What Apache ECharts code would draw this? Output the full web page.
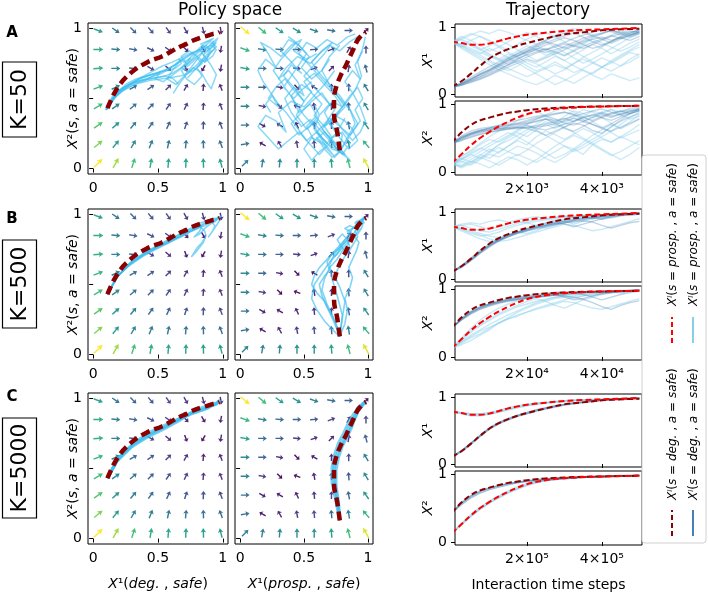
<!DOCTYPE html>
<html><head><meta charset="utf-8">
<script src="https://cdn.jsdelivr.net/npm/echarts@6/dist/echarts.min.js"></script>
<style>html,body{margin:0;padding:0;background:#fff}#c{width:708px;height:593px}</style>
</head><body><div id="c"></div>
<script>
// ---------------- DATA ----------------
const ROW_NAMES = ['A', 'B', 'C'];
const ROW_K = ['K=50', 'K=500', 'K=5000'];
const ROW_SPAN = [5000, 50000, 500000];           // time axis span of each row
const TIME_TICKS = [[2000, 4000], [20000, 40000], [200000, 400000]];
const TIME_TICK_LABELS = [['2×10³', '4×10³'], ['2×10⁴', '4×10⁴'], ['2×10⁵', '4×10⁵']];
const PHASE_TICKS = [0, 0.5, 1];
const PHASE_TICK_LABELS = ['0', '0.5', '1'];
const UNIT_TICKS = [0, 1];
const UNIT_TICK_LABELS = ['0', '1'];

// quiver grid (arrow centres)
const GRID_VALS = [0.04, 0.175, 0.31, 0.445, 0.58, 0.715, 0.85, 0.985];
// rows listed from top (y high) to bottom (y low); angle in degrees (0 = right, 90 = up)
const DEG_ANGLES = [
  [-20, -35, -45, -50, -55, -60, -75, -80],
  [0, -5, -10, -25, -35, -45, -60, -100],
  [5, 0, -5, -30, -40, -70, -120, -100],
  [20, 25, 30, 35, 45, 60, 85, 110],
  [30, 35, 40, 45, 55, 65, 85, 110],
  [35, 42, 50, 55, 65, 72, 88, 110],
  [40, 50, 60, 68, 78, 85, 92, 110],
  [45, 60, 72, 80, 85, 88, 92, 105]];
const DEG_MAGS = [
  [0.55, 0.38, 0.30, 0.25, 0.20, 0.15, 0.12, 0.10],
  [0.60, 0.40, 0.30, 0.22, 0.15, 0.10, 0.05, 0.08],
  [0.62, 0.42, 0.30, 0.18, 0.10, 0.05, 0.02, 0.08],
  [0.65, 0.45, 0.33, 0.25, 0.18, 0.12, 0.08, 0.10],
  [0.68, 0.45, 0.35, 0.28, 0.22, 0.18, 0.12, 0.12],
  [0.72, 0.50, 0.40, 0.33, 0.28, 0.25, 0.22, 0.20],
  [0.80, 0.52, 0.44, 0.40, 0.38, 0.36, 0.35, 0.33],
  [1.00, 0.85, 0.68, 0.60, 0.57, 0.56, 0.55, 0.53]];
const PROSP_ANGLES = [
  [-40, -40, -35, -30, -20, -10, 0, 45],
  [-20, -10, -5, 0, 5, 20, 60, 90],
  [-10, 0, 0, -5, 20, 45, 80, 105],
  [0, 0, -10, -45, 150, 90, 90, 120],
  [0, -10, -45, 160, 100, 90, 95, 120],
  [0, -30, 150, 115, 95, 90, 100, 125],
  [10, 150, 120, 100, 95, 95, 100, 130],
  [45, 80, 85, 90, 90, 95, 105, 120]];
const PROSP_MAGS = [
  [1.00, 0.68, 0.55, 0.50, 0.42, 0.35, 0.28, 0.05],
  [0.65, 0.42, 0.35, 0.30, 0.25, 0.18, 0.12, 0.20],
  [0.55, 0.35, 0.28, 0.15, 0.10, 0.08, 0.15, 0.30],
  [0.45, 0.30, 0.10, 0.02, 0.05, 0.10, 0.20, 0.40],
  [0.42, 0.15, 0.02, 0.02, 0.08, 0.12, 0.25, 0.45],
  [0.35, 0.08, 0.05, 0.08, 0.12, 0.18, 0.30, 0.50],
  [0.35, 0.05, 0.10, 0.15, 0.22, 0.30, 0.42, 0.62],
  [0.42, 0.42, 0.45, 0.48, 0.50, 0.55, 0.68, 0.95]];

// deterministic curves (time as a fraction of the row's span)
const TAU_DET = [0, 0.05, 0.1, 0.15, 0.2, 0.25, 0.3, 0.35, 0.4, 0.5, 0.6, 0.7, 0.8, 0.9, 1.0];
const DET_DEG_X1 = [0.11, 0.19, 0.30, 0.42, 0.53, 0.61, 0.67, 0.72, 0.76, 0.83, 0.89, 0.92, 0.95, 0.965, 0.975];
const DET_DEG_X2 = [0.43, 0.58, 0.69, 0.76, 0.80, 0.84, 0.87, 0.89, 0.91, 0.935, 0.95, 0.96, 0.965, 0.97, 0.975];
const DET_PROSP_X1 = [0.78, 0.76, 0.735, 0.735, 0.755, 0.79, 0.83, 0.86, 0.885, 0.915, 0.94, 0.955, 0.965, 0.975, 0.985];
const DET_PROSP_X2 = [0.13, 0.26, 0.39, 0.50, 0.59, 0.67, 0.74, 0.80, 0.85, 0.91, 0.94, 0.955, 0.965, 0.97, 0.975];

// sampled learning runs
const TAU_RUN = [0, 0.05, 0.1, 0.15, 0.2, 0.25, 0.3, 0.35, 0.4, 0.45, 0.5, 0.55, 0.6, 0.65, 0.7, 0.75, 0.8, 0.85, 0.9, 0.95, 1];
const RUNS_A_DEG_X1 = [
  [0.10,0.16,0.22,0.30,0.36,0.44,0.52,0.58,0.64,0.68,0.66,0.70,0.75,0.72,0.78,0.82,0.85,0.80,0.84,0.88,0.91],
  [0.10,0.14,0.20,0.26,0.33,0.40,0.47,0.53,0.58,0.63,0.68,0.62,0.57,0.64,0.71,0.77,0.82,0.87,0.83,0.88,0.93],
  [0.10,0.15,0.22,0.29,0.35,0.42,0.50,0.57,0.63,0.70,0.76,0.82,0.87,0.91,0.85,0.78,0.73,0.79,0.86,0.91,0.95],
  [0.10,0.13,0.19,0.25,0.31,0.37,0.43,0.49,0.55,0.61,0.66,0.72,0.77,0.83,0.88,0.92,0.96,0.93,0.88,0.92,0.96],
  [0.10,0.15,0.21,0.28,0.35,0.43,0.50,0.56,0.62,0.66,0.62,0.66,0.71,0.77,0.83,0.88,0.91,0.95,0.90,0.85,0.90],
  [0.10,0.17,0.25,0.33,0.41,0.48,0.54,0.60,0.66,0.72,0.78,0.74,0.68,0.74,0.80,0.86,0.82,0.76,0.82,0.87,0.92],
  [0.10,0.14,0.18,0.23,0.29,0.36,0.44,0.52,0.60,0.67,0.73,0.79,0.84,0.80,0.74,0.68,0.72,0.78,0.84,0.80,0.86],
  [0.10,0.16,0.23,0.30,0.37,0.45,0.53,0.61,0.68,0.74,0.80,0.86,0.91,0.95,0.92,0.86,0.90,0.95,0.92,0.88,0.93],
  [0.10,0.13,0.17,0.22,0.28,0.34,0.40,0.46,0.52,0.48,0.54,0.60,0.66,0.72,0.68,0.74,0.80,0.86,0.90,0.94,0.92]];
const RUNS_A_DEG_X2 = [
  [0.42,0.51,0.57,0.61,0.64,0.67,0.69,0.70,0.72,0.75,0.78,0.76,0.79,0.74,0.80,0.84,0.87,0.82,0.85,0.89,0.91],
  [0.42,0.49,0.55,0.59,0.62,0.64,0.66,0.68,0.71,0.74,0.78,0.71,0.64,0.60,0.67,0.74,0.80,0.86,0.89,0.91,0.93],
  [0.42,0.52,0.57,0.61,0.64,0.66,0.68,0.71,0.74,0.78,0.82,0.85,0.88,0.84,0.77,0.70,0.65,0.71,0.79,0.86,0.90],
  [0.42,0.48,0.54,0.58,0.61,0.63,0.64,0.65,0.66,0.68,0.71,0.74,0.78,0.82,0.86,0.90,0.93,0.88,0.84,0.88,0.93],
  [0.42,0.50,0.56,0.60,0.62,0.64,0.65,0.66,0.64,0.60,0.54,0.60,0.66,0.72,0.69,0.61,0.57,0.67,0.75,0.81,0.86],
  [0.42,0.53,0.60,0.64,0.66,0.68,0.70,0.72,0.76,0.80,0.83,0.78,0.72,0.69,0.74,0.80,0.85,0.80,0.86,0.90,0.92],
  [0.42,0.47,0.52,0.56,0.59,0.61,0.63,0.64,0.65,0.66,0.68,0.71,0.75,0.79,0.74,0.70,0.64,0.60,0.66,0.72,0.78],
  [0.42,0.50,0.56,0.61,0.65,0.69,0.73,0.76,0.79,0.82,0.84,0.86,0.88,0.85,0.80,0.76,0.82,0.87,0.90,0.86,0.91],
  [0.42,0.46,0.51,0.55,0.58,0.61,0.63,0.66,0.69,0.64,0.62,0.66,0.70,0.75,0.80,0.84,0.80,0.76,0.82,0.86,0.90]];
const RUNS_A_PROSP_X1 = [
  [0.78,0.70,0.62,0.55,0.48,0.40,0.35,0.42,0.50,0.45,0.38,0.30,0.36,0.45,0.55,0.62,0.70,0.78,0.85,0.90,0.94],
  [0.78,0.82,0.75,0.66,0.58,0.52,0.60,0.55,0.46,0.40,0.48,0.56,0.50,0.42,0.35,0.28,0.22,0.30,0.25,0.20,0.24],
  [0.78,0.74,0.80,0.86,0.80,0.72,0.66,0.74,0.82,0.88,0.92,0.85,0.78,0.70,0.76,0.84,0.90,0.95,0.92,0.96,0.98],
  [0.78,0.68,0.60,0.52,0.44,0.36,0.30,0.24,0.18,0.14,0.20,0.28,0.22,0.16,0.24,0.32,0.40,0.48,0.42,0.52,0.60],
  [0.78,0.84,0.90,0.86,0.78,0.70,0.62,0.56,0.64,0.72,0.66,0.58,0.50,0.58,0.66,0.74,0.68,0.60,0.68,0.76,0.82],
  [0.78,0.72,0.66,0.60,0.68,0.62,0.54,0.46,0.38,0.30,0.22,0.14,0.20,0.28,0.36,0.30,0.40,0.50,0.58,0.66,0.74],
  [0.78,0.86,0.80,0.72,0.64,0.70,0.78,0.86,0.92,0.86,0.78,0.70,0.62,0.54,0.46,0.52,0.60,0.68,0.76,0.84,0.90],
  [0.78,0.70,0.76,0.68,0.60,0.52,0.44,0.50,0.42,0.34,0.40,0.48,0.40,0.32,0.38,0.46,0.54,0.48,0.56,0.64,0.70],
  [0.78,0.74,0.68,0.62,0.56,0.50,0.56,0.64,0.72,0.66,0.58,0.62,0.70,0.64,0.56,0.48,0.40,0.46,0.54,0.62,0.58],
  [0.78,0.82,0.88,0.94,0.90,0.96,0.92,0.86,0.80,0.74,0.80,0.88,0.94,0.98,0.94,0.88,0.82,0.88,0.94,0.90,0.96],
  [0.78,0.72,0.64,0.58,0.50,0.44,0.38,0.32,0.26,0.32,0.38,0.44,0.38,0.46,0.52,0.46,0.40,0.34,0.42,0.48,0.56],
  [0.78,0.80,0.72,0.66,0.72,0.80,0.74,0.66,0.58,0.50,0.56,0.64,0.58,0.66,0.74,0.82,0.76,0.70,0.64,0.70,0.78]];
const RUNS_A_PROSP_X2 = [
  [0.12,0.20,0.28,0.35,0.30,0.40,0.50,0.58,0.52,0.62,0.70,0.64,0.72,0.80,0.75,0.82,0.88,0.84,0.90,0.93,0.95],
  [0.12,0.10,0.18,0.26,0.20,0.30,0.38,0.46,0.40,0.52,0.60,0.55,0.48,0.56,0.64,0.58,0.50,0.44,0.52,0.46,0.40],
  [0.12,0.16,0.10,0.18,0.26,0.22,0.30,0.38,0.34,0.28,0.20,0.14,0.22,0.32,0.40,0.48,0.56,0.66,0.76,0.86,0.94],
  [0.12,0.18,0.26,0.20,0.30,0.40,0.46,0.54,0.62,0.70,0.78,0.72,0.82,0.90,0.86,0.80,0.88,0.92,0.84,0.78,0.82],
  [0.12,0.22,0.32,0.42,0.52,0.60,0.68,0.76,0.84,0.90,0.82,0.74,0.66,0.58,0.50,0.42,0.34,0.26,0.18,0.26,0.36],
  [0.12,0.08,0.14,0.22,0.16,0.10,0.18,0.26,0.20,0.14,0.22,0.30,0.38,0.34,0.26,0.40,0.48,0.44,0.52,0.60,0.70],
  [0.12,0.06,0.12,0.20,0.28,0.36,0.30,0.24,0.32,0.42,0.50,0.58,0.66,0.74,0.82,0.90,0.86,0.92,0.88,0.94,0.96],
  [0.12,0.20,0.14,0.24,0.34,0.28,0.38,0.48,0.58,0.66,0.74,0.68,0.76,0.84,0.92,0.88,0.80,0.72,0.64,0.70,0.78],
  [0.12,0.08,0.16,0.12,0.06,0.14,0.22,0.18,0.10,0.18,0.28,0.38,0.46,0.54,0.48,0.40,0.32,0.24,0.30,0.38,0.46],
  [0.12,0.18,0.26,0.34,0.42,0.50,0.58,0.52,0.44,0.36,0.28,0.20,0.26,0.34,0.44,0.54,0.62,0.70,0.64,0.74,0.84],
  [0.12,0.14,0.22,0.30,0.38,0.46,0.54,0.62,0.70,0.78,0.84,0.90,0.94,0.88,0.82,0.74,0.66,0.58,0.50,0.56,0.62],
  [0.12,0.24,0.30,0.40,0.48,0.44,0.52,0.60,0.68,0.62,0.54,0.46,0.38,0.30,0.36,0.44,0.52,0.60,0.70,0.80,0.88]];
const RUNS_B_DEG_X1 = [
  [0.11,0.18,0.28,0.40,0.50,0.58,0.64,0.69,0.73,0.77,0.80,0.83,0.86,0.88,0.90,0.91,0.93,0.94,0.95,0.96,0.97],
  [0.11,0.20,0.31,0.43,0.52,0.60,0.66,0.70,0.74,0.77,0.80,0.82,0.84,0.86,0.87,0.85,0.80,0.76,0.80,0.84,0.86],
  [0.11,0.17,0.27,0.38,0.48,0.57,0.63,0.68,0.72,0.75,0.78,0.81,0.84,0.87,0.89,0.91,0.93,0.95,0.97,0.98,0.99],
  [0.11,0.19,0.30,0.41,0.51,0.59,0.65,0.70,0.74,0.78,0.81,0.84,0.87,0.89,0.91,0.93,0.94,0.95,0.96,0.97,0.98],
  [0.11,0.19,0.29,0.40,0.50,0.58,0.65,0.70,0.75,0.79,0.83,0.86,0.89,0.92,0.94,0.92,0.89,0.92,0.95,0.97,0.98],
  [0.11,0.18,0.28,0.39,0.49,0.57,0.63,0.68,0.72,0.76,0.80,0.84,0.82,0.78,0.82,0.86,0.90,0.94,0.96,0.97,0.99]];
const RUNS_B_DEG_X2 = [
  [0.43,0.55,0.65,0.72,0.77,0.80,0.83,0.85,0.87,0.89,0.90,0.91,0.92,0.93,0.94,0.95,0.95,0.96,0.96,0.97,0.97],
  [0.43,0.57,0.67,0.74,0.78,0.81,0.84,0.86,0.88,0.89,0.90,0.91,0.90,0.88,0.85,0.80,0.74,0.70,0.76,0.80,0.83],
  [0.43,0.54,0.63,0.70,0.75,0.79,0.82,0.84,0.86,0.88,0.89,0.91,0.92,0.94,0.95,0.96,0.97,0.97,0.98,0.98,0.99],
  [0.43,0.56,0.66,0.73,0.78,0.82,0.85,0.87,0.89,0.90,0.92,0.93,0.94,0.94,0.95,0.96,0.96,0.97,0.97,0.98,0.98],
  [0.43,0.56,0.66,0.73,0.78,0.82,0.85,0.88,0.90,0.92,0.94,0.95,0.96,0.94,0.92,0.88,0.84,0.88,0.92,0.95,0.97],
  [0.43,0.55,0.64,0.71,0.76,0.80,0.83,0.85,0.87,0.88,0.90,0.92,0.88,0.84,0.86,0.90,0.93,0.95,0.97,0.98,0.99]];
const RUNS_B_PROSP_X1 = [
  [0.78,0.74,0.68,0.64,0.66,0.70,0.76,0.80,0.84,0.86,0.88,0.90,0.92,0.93,0.94,0.95,0.96,0.96,0.97,0.97,0.98],
  [0.78,0.80,0.76,0.72,0.70,0.74,0.79,0.83,0.86,0.88,0.90,0.92,0.93,0.94,0.95,0.96,0.96,0.97,0.97,0.98,0.98],
  [0.78,0.74,0.70,0.66,0.60,0.56,0.58,0.62,0.66,0.70,0.74,0.78,0.82,0.80,0.76,0.72,0.74,0.78,0.82,0.86,0.90],
  [0.78,0.82,0.84,0.82,0.86,0.88,0.85,0.88,0.91,0.93,0.90,0.92,0.94,0.92,0.95,0.96,0.94,0.96,0.97,0.95,0.97],
  [0.78,0.76,0.72,0.68,0.64,0.62,0.66,0.70,0.68,0.72,0.78,0.82,0.86,0.84,0.88,0.92,0.90,0.93,0.95,0.96,0.97],
  [0.78,0.80,0.82,0.78,0.74,0.78,0.82,0.86,0.84,0.80,0.76,0.80,0.84,0.88,0.92,0.90,0.94,0.96,0.95,0.97,0.98],
  [0.78,0.72,0.66,0.60,0.56,0.58,0.64,0.70,0.76,0.80,0.84,0.88,0.86,0.82,0.86,0.90,0.93,0.91,0.94,0.96,0.97]];
const RUNS_B_PROSP_X2 = [
  [0.13,0.24,0.36,0.46,0.54,0.62,0.68,0.74,0.78,0.82,0.85,0.88,0.90,0.92,0.93,0.94,0.95,0.96,0.96,0.97,0.97],
  [0.13,0.28,0.42,0.54,0.64,0.72,0.78,0.83,0.87,0.90,0.92,0.93,0.94,0.95,0.96,0.96,0.97,0.97,0.97,0.98,0.98],
  [0.13,0.22,0.30,0.38,0.44,0.50,0.56,0.62,0.66,0.70,0.74,0.78,0.82,0.80,0.76,0.72,0.70,0.74,0.78,0.82,0.86],
  [0.13,0.22,0.32,0.40,0.48,0.55,0.62,0.68,0.74,0.80,0.84,0.88,0.90,0.86,0.90,0.93,0.95,0.96,0.94,0.96,0.98],
  [0.13,0.20,0.28,0.34,0.42,0.50,0.56,0.60,0.66,0.72,0.76,0.80,0.84,0.88,0.90,0.92,0.94,0.95,0.96,0.97,0.98],
  [0.13,0.26,0.38,0.48,0.56,0.64,0.70,0.76,0.82,0.86,0.82,0.76,0.72,0.78,0.84,0.88,0.92,0.94,0.96,0.97,0.98],
  [0.13,0.18,0.24,0.32,0.40,0.50,0.58,0.66,0.72,0.78,0.82,0.86,0.88,0.90,0.92,0.90,0.93,0.95,0.96,0.97,0.98]];
const RUNS_C_DEG_X1 = [
  [0.11,0.19,0.31,0.43,0.54,0.62,0.68,0.73,0.77,0.81,0.84,0.87,0.89,0.91,0.92,0.94,0.95,0.96,0.96,0.97,0.97],
  [0.11,0.18,0.29,0.41,0.52,0.60,0.66,0.71,0.75,0.79,0.82,0.85,0.88,0.90,0.92,0.93,0.95,0.96,0.97,0.98,0.98],
  [0.11,0.20,0.31,0.42,0.53,0.61,0.67,0.72,0.76,0.80,0.83,0.86,0.89,0.91,0.93,0.94,0.95,0.96,0.97,0.97,0.98]];
const RUNS_C_DEG_X2 = [
  [0.43,0.57,0.67,0.74,0.79,0.83,0.86,0.88,0.90,0.91,0.92,0.93,0.94,0.95,0.955,0.96,0.965,0.97,0.97,0.975,0.975],
  [0.43,0.55,0.65,0.72,0.77,0.81,0.84,0.87,0.89,0.90,0.91,0.92,0.93,0.94,0.95,0.96,0.96,0.97,0.98,0.98,0.99],
  [0.43,0.58,0.68,0.75,0.80,0.83,0.86,0.88,0.90,0.92,0.93,0.94,0.945,0.95,0.96,0.96,0.965,0.97,0.975,0.975,0.98]];
const RUNS_C_PROSP_X1 = [
  [0.78,0.765,0.74,0.73,0.75,0.78,0.82,0.85,0.88,0.90,0.91,0.93,0.94,0.95,0.955,0.96,0.965,0.97,0.975,0.98,0.985],
  [0.78,0.75,0.72,0.72,0.74,0.77,0.81,0.84,0.87,0.89,0.91,0.92,0.93,0.945,0.95,0.96,0.96,0.97,0.97,0.98,0.98],
  [0.78,0.77,0.75,0.75,0.77,0.80,0.84,0.87,0.89,0.91,0.92,0.935,0.945,0.955,0.96,0.965,0.97,0.975,0.98,0.985,0.99]];
const RUNS_C_PROSP_X2 = [
  [0.13,0.25,0.37,0.48,0.57,0.65,0.72,0.78,0.83,0.87,0.90,0.92,0.93,0.94,0.95,0.96,0.96,0.965,0.97,0.97,0.975],
  [0.13,0.27,0.40,0.51,0.60,0.68,0.75,0.81,0.86,0.89,0.91,0.93,0.94,0.95,0.955,0.96,0.965,0.97,0.97,0.975,0.98],
  [0.13,0.26,0.38,0.49,0.58,0.66,0.73,0.79,0.84,0.88,0.905,0.925,0.94,0.95,0.955,0.96,0.965,0.97,0.975,0.98,0.98]];
const ROW_RUNS = [
  [RUNS_A_DEG_X1, RUNS_A_DEG_X2, RUNS_A_PROSP_X1, RUNS_A_PROSP_X2],
  [RUNS_B_DEG_X1, RUNS_B_DEG_X2, RUNS_B_PROSP_X1, RUNS_B_PROSP_X2],
  [RUNS_C_DEG_X1, RUNS_C_DEG_X2, RUNS_C_PROSP_X1, RUNS_C_PROSP_X2]];

const LEGEND_LABELS = ['prosp.', 'deg.'];

// ---------------- STYLE / LAYOUT ----------------
const FONT = 'DejaVu Sans';
const VIRIDIS = ['#440154','#482878','#3e4989','#31688e','#26828e','#1f9e89','#35b779','#6ece58','#b5de2b','#fde725'];
const C_PHASE = '#3cbef0';
const C_DEG_DET = '#8b0000';
const C_PROSP_DET = '#ff0000';
const C_DEG_RUN = '#4682b4';
const C_PROSP_RUN = '#87ceeb';
const PHASE_TOPS = [23, 209, 393];
const PHASE_H = 151;
const TIME_TOPS = [[24, 101], [209, 286], [394, 471]];
const TIME_H = 73;
const PHASE_RUN_W = [1.5, 1.6, 3.2];
const PHASE_RUN_OP = [0.6, 0.65, 0.7];
const TIME_RUN_OP = [0.3, 0.35, 0.5];
const ARROW = 'path://M2.5 0 L5 5 L3.15 4.2 L3.15 11 L1.85 11 L1.85 4.2 L0 5 Z';

const grids = [], xAxes = [], yAxes = [], series = [], quiverIdx = [];
const rich = {
  i: {fontFamily: FONT, fontStyle: 'italic', fontSize: 14, color: '#000'},
  n: {fontFamily: FONT, fontSize: 14, color: '#000'}
};
const tickStyle = {show: true, length: 4, lineStyle: {color: '#000', width: 1}};
const labStyle = {color: '#000', fontSize: 14, fontFamily: FONT};

function addGrid(left, top, width, height) {
  grids.push({left, top, width, height, show: true, borderColor: '#000', borderWidth: 1, backgroundColor: 'transparent', containLabel: false});
  return grids.length - 1;
}
function quiverData(angles, mags) {
  const d = [];
  for (let r = 0; r < 8; r++) for (let c = 0; c < 8; c++) {
    const a = angles[r][c], m = mags[r][c];
    d.push({value: [GRID_VALS[c], GRID_VALS[7 - r], a, m], symbolRotate: a - 90, symbolSize: [5.5, 7 + 5 * m]});
  }
  return d;
}
function line(gi, data, color, width, opacity, dash, z, smooth) {
  series.push({type: 'line', xAxisIndex: gi, yAxisIndex: gi, data, showSymbol: false, symbol: 'none',
    smooth: smooth || false, z, silent: true, clip: true,
    lineStyle: {color, width, opacity, type: dash || 'solid', cap: 'butt', join: 'round'}});
}
function pairs(xs, ys) { return xs.map((x, i) => [x, ys[i]]); }

for (let r = 0; r < 3; r++) {
  const [dX1, dX2, pX1, pX2] = ROW_RUNS[r];
  const last = r === 2;
  // ---- phase panels ----
  for (let side = 0; side < 2; side++) {
    const gi = addGrid(side === 0 ? 88 : 235, PHASE_TOPS[r], side === 0 ? 140 : 138, PHASE_H);
    xAxes.push({type: 'value', gridIndex: gi, min: -0.04, max: 1.04, splitLine: {show: false}, axisLine: {show: false},
      axisTick: Object.assign({customValues: PHASE_TICKS}, tickStyle),
      axisLabel: Object.assign({customValues: PHASE_TICKS, margin: 7, formatter: v => PHASE_TICK_LABELS[PHASE_TICKS.indexOf(v)]}, labStyle),
      name: last ? (side === 0 ? '{i|X}{n|¹(}{i|deg.}{n| , }{i|safe}{n|)}' : '{i|X}{n|¹(}{i|prosp.}{n| , }{i|safe}{n|)}') : '',
      nameLocation: 'middle', nameGap: 33, nameMoveOverlap: false, nameTextStyle: {rich}});
    yAxes.push({type: 'value', gridIndex: gi, min: -0.039, max: 1.039, splitLine: {show: false}, axisLine: {show: false},
      axisTick: Object.assign({customValues: PHASE_TICKS}, tickStyle),
      axisLabel: Object.assign({show: side === 0, customValues: UNIT_TICKS, margin: 6, formatter: v => UNIT_TICK_LABELS[UNIT_TICKS.indexOf(v)]}, labStyle),
      name: side === 0 ? '{i|X}{n|²(}{i|s}{n|, }{i|a}{n| = }{i|safe}{n|)}' : '',
      nameLocation: 'middle', nameGap: 8, nameRotate: 90, nameMoveOverlap: false, nameTextStyle: {rich}});
    quiverIdx.push(series.length);
    series.push({type: 'scatter', xAxisIndex: gi, yAxisIndex: gi, symbol: ARROW, symbolKeepAspect: false,
      data: side === 0 ? quiverData(DEG_ANGLES, DEG_MAGS) : quiverData(PROSP_ANGLES, PROSP_MAGS),
      itemStyle: {opacity: 0.95}, z: 2, silent: true});
    const xs = side === 0 ? dX1 : pX1, ys = side === 0 ? dX2 : pX2;
    for (let k = 0; k < xs.length; k++) line(gi, pairs(xs[k], ys[k]), C_PHASE, PHASE_RUN_W[r], PHASE_RUN_OP[r], 'solid', 3, false);
    line(gi, side === 0 ? pairs(DET_DEG_X1, DET_DEG_X2) : pairs(DET_PROSP_X1, DET_PROSP_X2), C_DEG_DET, 4.5, 1, [9, 5], 5, 0.4);
  }
  // ---- time panels ----
  const span = ROW_SPAN[r];
  for (let v = 0; v < 2; v++) {
    const gi = addGrid(455, TIME_TOPS[r][v], 187, TIME_H + v);
    xAxes.push({type: 'value', gridIndex: gi, min: span * 0.016, max: span * 1.014, splitLine: {show: false}, axisLine: {show: false},
      axisTick: Object.assign({customValues: TIME_TICKS[r]}, tickStyle),
      axisLabel: Object.assign({show: v === 1, customValues: TIME_TICKS[r], margin: 7, formatter: val => TIME_TICK_LABELS[r][TIME_TICKS[r].indexOf(val)]}, labStyle),
      name: (last && v === 1) ? 'Interaction time steps' : '', nameLocation: 'middle', nameGap: 33, nameMoveOverlap: false,
      nameTextStyle: {color: '#000', fontSize: 14, fontFamily: FONT}});
    yAxes.push({type: 'value', gridIndex: gi, min: -0.045, max: 1.045, splitLine: {show: false}, axisLine: {show: false},
      axisTick: Object.assign({customValues: UNIT_TICKS}, tickStyle),
      axisLabel: Object.assign({customValues: UNIT_TICKS, margin: 8, formatter: val => UNIT_TICK_LABELS[UNIT_TICKS.indexOf(val)]}, labStyle),
      name: v === 0 ? '{i|X}{n|¹}' : '{i|X}{n|²}', nameLocation: 'middle', nameGap: 20, nameRotate: 90, nameMoveOverlap: false, nameTextStyle: {rich}});
    const dRuns = v === 0 ? dX1 : dX2, pRuns = v === 0 ? pX1 : pX2;
    const tx = TAU_RUN.map(t => t * span);
    pRuns.forEach(run => line(gi, pairs(tx, run), C_PROSP_RUN, 1.4, TIME_RUN_OP[r] + 0.1, 'solid', 3, false));
    dRuns.forEach(run => line(gi, pairs(tx, run), C_DEG_RUN, 1.4, TIME_RUN_OP[r], 'solid', 3, false));
    const td = TAU_DET.map(t => t * span);
    line(gi, pairs(td, v === 0 ? DET_DEG_X1 : DET_DEG_X2), C_DEG_DET, 2, 1, [6, 3], 5, 0.4);
    line(gi, pairs(td, v === 0 ? DET_PROSP_X1 : DET_PROSP_X2), C_PROSP_DET, 2, 1, [6, 3], 6, 0.4);
  }
}

// ---------------- GRAPHIC (titles, panel tags, legend) ----------------
const graphic = [];
graphic.push({type: 'text', left: 230 - 52, top: 2, style: {text: 'Policy space', fontSize: 17, fontFamily: FONT, fill: '#000'}});
graphic.push({type: 'text', left: 548 - 42, top: 2, style: {text: 'Trajectory', fontSize: 17, fontFamily: FONT, fill: '#000'}});
const tagY = [33, 219, 397];
const kBox = [[62, 75], [240, 88], [418, 100]];
for (let r = 0; r < 3; r++) {
  graphic.push({type: 'text', x: 12, y: tagY[r], style: {text: ROW_NAMES[r], fontSize: 15, fontWeight: 'bold', fontFamily: FONT, fill: '#000', align: 'center', verticalAlign: 'middle'}});
  graphic.push({type: 'rect', shape: {x: 2.5, y: kBox[r][0], width: 34, height: kBox[r][1]}, style: {fill: '#fff', stroke: '#000', lineWidth: 1.2}});
  graphic.push({type: 'text', x: 20, y: kBox[r][0] + kBox[r][1] / 2, rotation: Math.PI / 2,
    style: {text: ROW_K[r], fontSize: 22, fontFamily: FONT, fill: '#000', align: 'center', verticalAlign: 'middle'}});
}
// legend (rotated)
graphic.push({type: 'rect', shape: {x: 642, y: 155, width: 64, height: 388, r: 3}, style: {fill: '#fff', stroke: '#d0d0d0', lineWidth: 1}});
const legRich = {
  i: {fontFamily: FONT, fontStyle: 'italic', fontSize: 12, fill: '#000'},
  n: {fontFamily: FONT, fontSize: 12, fill: '#000'}
};
const legEntries = [
  {x: 672, y0: 317, y1: 343, ty: 306, color: C_PROSP_DET, dash: [5, 3], w: 2, lab: LEGEND_LABELS[0]},
  {x: 693, y0: 317, y1: 343, ty: 306, color: C_PROSP_RUN, dash: null, w: 2, lab: LEGEND_LABELS[0]},
  {x: 672, y0: 510, y1: 536, ty: 500, color: C_DEG_DET, dash: [5, 3], w: 2, lab: LEGEND_LABELS[1]},
  {x: 693, y0: 510, y1: 536, ty: 500, color: C_DEG_RUN, dash: null, w: 2, lab: LEGEND_LABELS[1]}];
legEntries.forEach(e => {
  graphic.push({type: 'line', shape: {x1: e.x, y1: e.y1, x2: e.x, y2: e.y0}, style: {stroke: e.color, lineWidth: e.w, lineDash: e.dash}});
  graphic.push({type: 'text', x: e.x + 1, y: e.ty, rotation: Math.PI / 2,
    style: {text: '{i|X}{i|ⁱ}{n|(}{i|s}{n| = }{i|' + e.lab + '}{n| , }{i|a}{n| = }{i|safe}{n|)}', rich: legRich, align: 'left', verticalAlign: 'middle'}});
});

const chart = echarts.init(document.getElementById('c'), null, {renderer: 'canvas'});
chart.setOption({
  animation: false,
  backgroundColor: '#fff',
  grid: grids, xAxis: xAxes, yAxis: yAxes, series,
  visualMap: {type: 'continuous', show: false, dimension: 3, min: 0, max: 1, seriesIndex: quiverIdx, inRange: {color: VIRIDIS}},
  graphic
});
</script></body></html>
